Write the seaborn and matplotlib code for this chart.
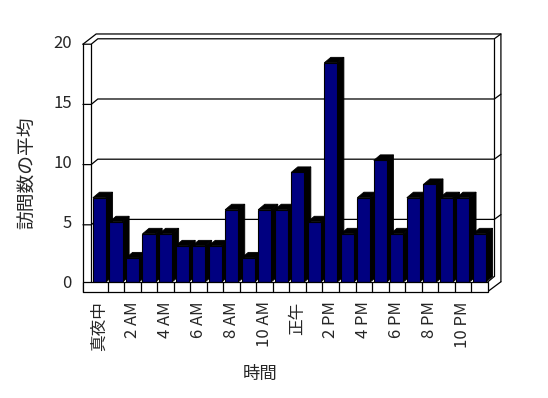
import matplotlib
matplotlib.use("Agg")
import matplotlib.pyplot as plt
import seaborn as sns
from matplotlib.patches import Polygon, Rectangle

# hourly average visits (0:00 .. 23:00)
hours = list(range(24))
avg_visits = [7, 5, 2, 4, 4, 3, 3, 3, 6, 2, 6, 6,
              9.1, 5, 18.2, 4, 7, 10.1, 4, 7, 8.1, 7, 7, 4]
tick_hours = list(range(0, 24, 2))
tick_labels = ["真夜中", "2 AM", "4 AM", "6 AM", "8 AM", "10 AM",
               "正午", "2 PM", "4 PM", "6 PM", "8 PM", "10 PM"]
y_ticks = [0, 5, 10, 15, 20]

NAVY = "#000080"
DX, DY = 0.40, 0.46          # depth offset of the 3D look (data units)
WALL_L, WALL_R = -1.0, -0.5  # left wall front edge
FLOOR_B = -0.8               # bottom of the floor slab


def y_front(level):
    return level - 0.25


def y_back(level):
    return level + 0.2


sns.set_theme(style="white")
plt.rcParams["font.family"] = ["Noto Sans CJK JP", "DejaVu Sans"]

fig = plt.figure(figsize=(5.48, 3.98), dpi=100)
ax = fig.add_axes([91.2 / 548, (398 - 282) / 398, 396.5 / 548, 240.8 / 398])
ax.patch.set_alpha(0)

sns.barplot(x=hours, y=avg_visits, color=NAVY, saturation=1, width=0.79,
            edgecolor="black", linewidth=0.8, ax=ax)

# --- black depth faces for every bar ---
for i, bar in enumerate(ax.patches):
    x0, w, h = bar.get_x(), bar.get_width(), bar.get_height()
    x1 = x0 + w
    side = Polygon([(x1, 0), (x1, h), (x1 + DX, h + DY), (x1 + DX, DY)],
                   closed=True, facecolor="black", edgecolor="black",
                   linewidth=0.6, zorder=2 + 2 * i, clip_on=False)
    top = Polygon([(x0, h), (x0 + DX, h + DY), (x1 + DX, h + DY), (x1, h)],
                  closed=True, facecolor="black", edgecolor="black",
                  linewidth=0.6, zorder=2 + 2 * i, clip_on=False)
    ax.add_patch(side)
    ax.add_patch(top)
    bar.set_zorder(3 + 2 * i)

line_kw = dict(color="black", linewidth=0.9, clip_on=False, zorder=1)
x_back_l, x_back_r = -0.5 + DX, 23.5 + DX

# gridlines on the back wall + ticks on the left wall
for lv in y_ticks[1:]:
    ax.plot([WALL_L, WALL_R, x_back_l, x_back_r, x_back_r + DX],
            [y_front(lv), y_front(lv), y_back(lv), y_back(lv), y_back(lv) + DY - 0.06],
            **line_kw)

# left wall slab
ax.plot([WALL_L, WALL_L], [FLOOR_B, y_front(20)], **line_kw)
ax.plot([WALL_R, WALL_R], [0, y_front(20)], **line_kw)
top_back = y_back(20) + DY - 0.06
ax.plot([WALL_L, WALL_L + 2 * DX, x_back_r + DX, x_back_r + DX],
        [y_front(20), top_back, top_back, FLOOR_B + 2 * DY - 0.1], **line_kw)
# back wall right edge and floor corner
ax.plot([x_back_r, x_back_r], [y_back(20), DY], **line_kw)
ax.plot([23.5, x_back_r], [0, DY], **line_kw)
ax.plot([23.5, x_back_r + DX], [FLOOR_B, FLOOR_B + 2 * DY - 0.1], **line_kw)

# floor front face with category dividers
ax.add_patch(Rectangle((WALL_L, FLOOR_B), 23.5 - WALL_L, -FLOOR_B,
                       facecolor="white", edgecolor="black", linewidth=0.9,
                       clip_on=False, zorder=60))
for k in range(23):
    ax.plot([k + 0.5, k + 0.5], [FLOOR_B, 0], color="black", linewidth=0.9,
            clip_on=False, zorder=61)

ax.set_xlim(-0.5, 23.5)
ax.set_ylim(0, 20)
for s in ax.spines.values():
    s.set_visible(False)
ax.grid(False)

ax.set_yticks(y_ticks, [str(v) for v in y_ticks])
ax.set_xticks(tick_hours, tick_labels, rotation=90, va="top", ha="center")
ax.tick_params(axis="y", length=0, pad=14, labelsize=12)
ax.tick_params(axis="x", length=0, pad=14, labelsize=12)

ax.set_xlabel("時間", fontsize=12.5, va="center", ha="center")
ax.xaxis.set_label_coords((260 - 91.2) / 396.5, (282 - 374) / 240.8)
ax.set_ylabel("訪問数の平均", fontsize=13.5, va="center", ha="center")
ax.yaxis.set_label_coords((28 - 91.2) / 396.5, (282 - 173) / 240.8)

fig.savefig("out.png", dpi=100)
